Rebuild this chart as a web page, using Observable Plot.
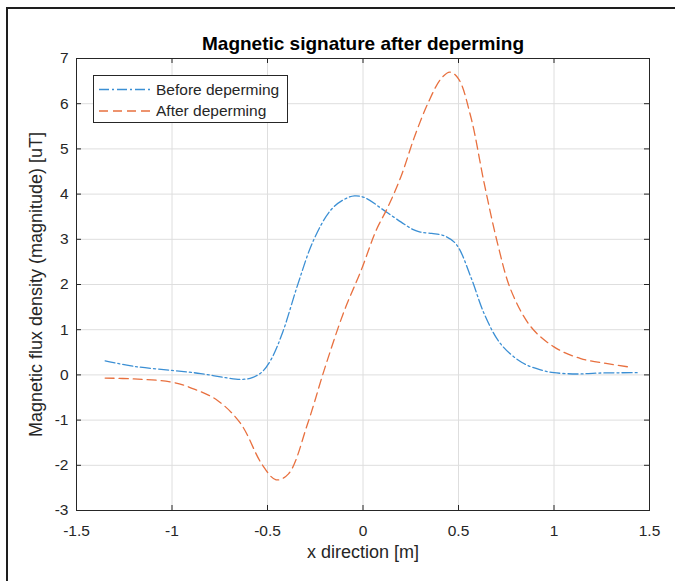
<!DOCTYPE html>
<html>
<head>
<meta charset="utf-8">
<script src="https://cdn.jsdelivr.net/npm/d3@7"></script>
<script src="https://cdn.jsdelivr.net/npm/@observablehq/plot@0.6"></script>
<style>
  html, body { margin: 0; padding: 0; background: #fff; }
  #fig { position: relative; width: 675px; height: 581px; overflow: hidden; background: #fff;
         font-family: "Liberation Sans", Arial, Helvetica, sans-serif; }
  #border { position: absolute; left: 6px; top: 7px; right: -10px; bottom: -10px;
            border-top: 2px solid #1e1e1e; border-left: 2px solid #1e1e1e; pointer-events: none; }
  #legend { position: absolute; left: 93px; top: 75px; width: 193px; height: 46px;
            border: 1px solid #262626; background: #fff; }
  #legend svg { display: block; }
</style>
</head>
<body>
<div id="fig">
  <div id="chart"></div>
  <div id="legend"></div>
  <div id="border"></div>
</div>
<script>
// ---- data ----
const title = "Magnetic signature after deperming";
const xLabel = "x direction [m]";
const yLabel = "Magnetic flux density (magnitude) [uT]";
const seriesNames = ["Before deperming", "After deperming"];

const xTicks = [-1.5, -1, -0.5, 0, 0.5, 1, 1.5];
const yTicks = [-3, -2, -1, 0, 1, 2, 3, 4, 5, 6, 7];

const beforeX = [-1.35, -1.2, -1.0, -0.85, -0.72, -0.64, -0.58, -0.53, -0.48, -0.42, -0.34, -0.26, -0.17, -0.1, -0.045, 0.01, 0.11, 0.2, 0.26, 0.30, 0.36, 0.43, 0.49, 0.565, 0.635, 0.72, 0.83, 0.93, 1.0, 1.12, 1.23, 1.44];
const beforeY = [0.31, 0.19, 0.10, 0.03, -0.06, -0.10, -0.06, 0.06, 0.35, 0.95, 2.02, 2.97, 3.64, 3.88, 3.96, 3.92, 3.64, 3.38, 3.22, 3.16, 3.13, 3.07, 2.88, 2.16, 1.35, 0.69, 0.28, 0.11, 0.05, 0.02, 0.04, 0.05];

const afterX = [-1.35, -1.2, -1.0, -0.88, -0.76, -0.64, -0.53, -0.455, -0.39, -0.29, -0.2, -0.098, -0.01, 0.068, 0.13, 0.2, 0.269, 0.339, 0.408, 0.455, 0.50, 0.565, 0.635, 0.705, 0.775, 0.88, 1.0, 1.14, 1.28, 1.40];
const afterY = [-0.07, -0.09, -0.16, -0.32, -0.57, -1.08, -1.97, -2.32, -2.19, -1.08, 0.15, 1.42, 2.31, 3.19, 3.71, 4.40, 5.26, 6.0, 6.55, 6.70, 6.55, 5.70, 4.23, 2.90, 1.87, 1.06, 0.62, 0.36, 0.25, 0.17];

const colors = ["#3b8fd4", "#e8703f"];
const dashes = ["10,3,2,3", "9,5"];

// ---- tables ----
const before = beforeX.map((x, i) => ({x, y: beforeY[i]}));
const after = afterX.map((x, i) => ({x, y: afterY[i]}));

const W = 675, H = 581;
const mL = 76, mR = 26, mT = 58, mB = 71;
const frameH = H - mT - mB, frameW = W - mL - mR;
const tickLen = 5;
const axisColor = "#262626";
const gridColor = "#dedede";
const fmt = d => String(d);

const chart = Plot.plot({
  width: W, height: H,
  marginLeft: mL, marginRight: mR, marginTop: mT, marginBottom: mB,
  style: {fontFamily: '"Liberation Sans", Arial, Helvetica, sans-serif', background: "#fff", color: axisColor},
  x: {domain: [-1.5, 1.5], label: null},
  y: {domain: [-3, 7], label: null},
  marks: [
    Plot.gridX(xTicks, {stroke: gridColor, strokeOpacity: 1}),
    Plot.gridY(yTicks, {stroke: gridColor, strokeOpacity: 1}),
    Plot.line(before, {x: "x", y: "y", curve: "catmull-rom", stroke: colors[0], strokeWidth: 1.3, strokeDasharray: dashes[0]}),
    Plot.line(after, {x: "x", y: "y", curve: "catmull-rom", stroke: colors[1], strokeWidth: 1.3, strokeDasharray: dashes[1]}),
    Plot.frame({stroke: axisColor, strokeWidth: 1}),
    // inward ticks on all four sides
    Plot.tickX(xTicks, {x: d => d, stroke: axisColor, insetTop: frameH - tickLen}),
    Plot.tickX(xTicks, {x: d => d, stroke: axisColor, insetBottom: frameH - tickLen}),
    Plot.tickY(yTicks, {y: d => d, stroke: axisColor, insetRight: frameW - tickLen}),
    Plot.tickY(yTicks, {y: d => d, stroke: axisColor, insetLeft: frameW - tickLen}),
    Plot.axisX(xTicks, {tickSize: 0, tickPadding: 14, fontSize: 15.5, tickFormat: fmt, label: null, fill: axisColor}),
    Plot.axisY(yTicks, {tickSize: 0, tickPadding: 8, fontSize: 15.5, tickFormat: fmt, label: null, fill: axisColor}),
    Plot.text([xLabel], {frameAnchor: "bottom", dy: 42, lineAnchor: "middle", textAnchor: "middle", fontSize: 18, fill: axisColor, text: d => d}),
    Plot.text([yLabel], {frameAnchor: "left", dx: -40, rotate: -90, lineAnchor: "middle", textAnchor: "middle", fontSize: 18, fill: axisColor, text: d => d}),
    Plot.text([title], {frameAnchor: "top", dy: -15, lineAnchor: "middle", textAnchor: "middle", fontSize: 19, fontWeight: "bold", fill: "#000", text: d => d})
  ]
});
document.getElementById("chart").appendChild(chart);

// ---- legend ----
const lg = d3.select("#legend").append("svg").attr("width", 193).attr("height", 46);
seriesNames.forEach((name, i) => {
  const cy = 13.5 + i * 21.5;
  lg.append("line").attr("x1", 5).attr("x2", 58).attr("y1", cy).attr("y2", cy)
    .attr("stroke", colors[i]).attr("stroke-width", 1.3).attr("stroke-dasharray", dashes[i]);
  lg.append("text").attr("x", 62).attr("y", cy).attr("dy", "0.35em")
    .attr("font-size", 15.5).attr("fill", axisColor)
    .attr("font-family", '"Liberation Sans", Arial, Helvetica, sans-serif').text(name);
});
</script>
</body>
</html>
